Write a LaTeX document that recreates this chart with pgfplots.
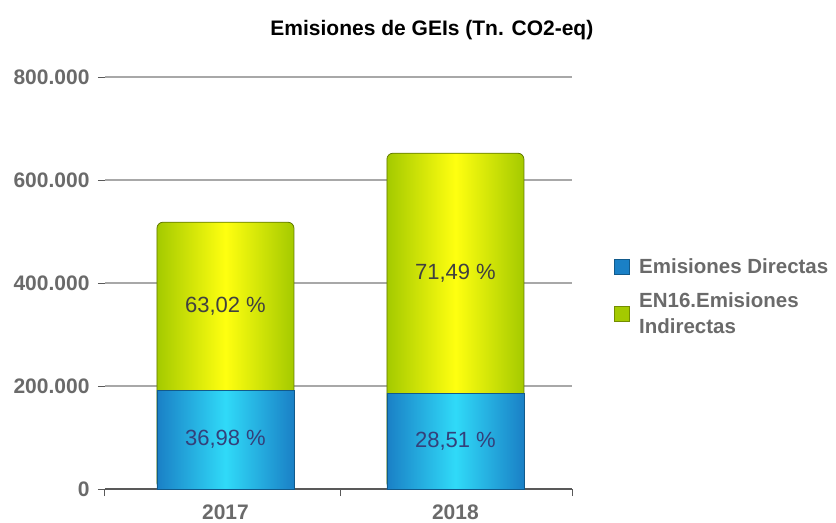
\documentclass[border=0pt]{standalone}
\usepackage{pgfplots}
\pgfplotsset{compat=1.18}
\usepackage{pgfplotstable}
\usepackage{fontspec}
\setmainfont{Liberation Sans}

\definecolor{cBlueE}{HTML}{1A80C6}
\definecolor{cBlueM}{HTML}{30DAF8}
\definecolor{cGreenE}{HTML}{A4CA00}
\definecolor{cGreenM}{HTML}{FFFF10}
\definecolor{cGrid}{HTML}{A8A8A8}
\definecolor{cLab}{HTML}{6A6A6A}
\definecolor{cNavy}{HTML}{34407A}

% values in thousands of t CO2-eq; pd, pi = shares of the year's total
\pgfplotstableread{
x d i pd pi
0 191.6 326.4 36,98 63,02
1 186.0 466.0 28,51 71,49
}\emis

\begin{document}
\begin{tikzpicture}
\begin{axis}[
    scale only axis, width=467pt, height=412pt,
    ybar, bar width=137pt, bar shift=0pt,
    xmin=-0.524, xmax=1.507, ymin=0, ymax=800,
    clip=false,
    axis x line*=bottom, axis y line*=left,
    y axis line style={draw=none},
    x axis line style={draw=black!65, line width=1.3pt},
    ymajorgrids, grid style={cGrid, line width=1.6pt},
    ytick={0,200,400,600,800},
    yticklabels={0,200.000,400.000,600.000,800.000},
    xtick={-0.524,0.5,1.507}, xticklabels={},
    extra x ticks={0,1}, extra x tick labels={2017,2018},
    extra x tick style={major tick length=0pt},
    tick align=outside, major tick length=7pt,
    tick style={black!65, line width=1pt},
    ticklabel style={font=\fontsize{21}{23}\selectfont\bfseries, text=cLab},
    yticklabel style={xshift=-5pt},
    xticklabel style={yshift=-12pt},
    point meta=explicit symbolic,
    nodes near coords={\pgfplotspointmeta{} \%},
    every node near coord/.append style={anchor=center,
        font=\fontsize{22}{26}\selectfont},
    legend style={at={(1.083,0.57)}, anchor=north west, draw=none, fill=none,
        font=\fontsize{20.5}{26}\selectfont\bfseries, text=cLab,
        cells={anchor=west, align=left}, row sep=14pt},
    legend cell align=left,
    green bar/.style={forget plot, draw=cGreenE!60!black, line width=0.8pt,
        rounded corners=6pt,
        left color=cGreenE, right color=cGreenE, middle color=cGreenM,
        visualization depends on={\thisrow{i} \as \hh},
        every node near coord/.append style={text=black!75, yshift={-0.2575*\hh pt}}},
    blue bar/.style={forget plot, draw=cBlueE!70!black, line width=0.8pt,
        left color=cBlueE, right color=cBlueE, middle color=cBlueM,
        visualization depends on={\thisrow{d} \as \hh},
        every node near coord/.append style={text=cNavy, yshift={-0.2575*\hh pt}}},
    ]

% green bars: whole year total, the direct part is drawn over them
\addplot[green bar, skip coords between index={1}{2}]
    table[x=x, y expr=\thisrow{d}+\thisrow{i}, meta=pi] {\emis};
\addplot[green bar, skip coords between index={0}{1}]
    table[x=x, y expr=\thisrow{d}+\thisrow{i}, meta=pi] {\emis};
\addplot[blue bar, skip coords between index={1}{2}]
    table[x=x, y=d, meta=pd] {\emis};
\addplot[blue bar, skip coords between index={0}{1}]
    table[x=x, y=d, meta=pd] {\emis};

\addlegendimage{legend image code/.code={\draw[draw=cBlueE!70!black, fill=cBlueE] (0pt,-7.5pt) rectangle (15pt,7.5pt); \path[draw=none] (0pt,0pt) -- (23pt,0pt);}}
\addlegendentry{Emisiones Directas}
\addlegendimage{legend image code/.code={\draw[draw=cGreenE!70!black, fill=cGreenE] (0pt,-7.5pt) rectangle (15pt,7.5pt); \path[draw=none] (0pt,0pt) -- (23pt,0pt);}}
\addlegendentry{EN16.Emisiones\\Indirectas}

\node[font=\fontsize{21}{24}\selectfont\bfseries] at (rel axis cs:0.70,1.114)
    {Emisiones de GEIs (Tn. CO2-eq)};
\path (rel axis cs:-0.2248,-0.0752) rectangle (rel axis cs:1.5653,1.1869);
\end{axis}
\end{tikzpicture}
\end{document}
